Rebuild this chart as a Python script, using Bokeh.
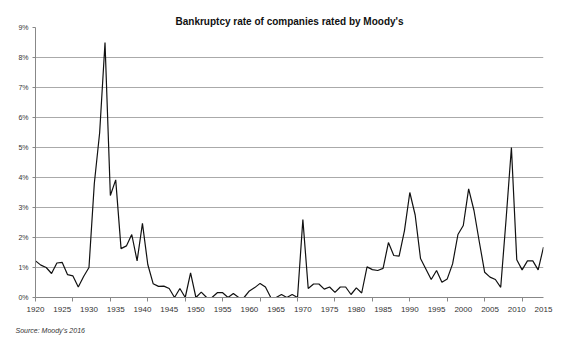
from bokeh.plotting import figure
from bokeh.models import Range1d, FixedTicker, PrintfTickFormatter, Title
from bokeh.embed import file_html
from bokeh.resources import INLINE

years = list(range(1920, 2016))
rates = [
    1.22, 1.08, 1.00, 0.80, 1.15, 1.17, 0.76, 0.72, 0.35, 0.70,  # 1920s
    1.00, 3.80, 5.50, 8.50, 3.40, 3.92, 1.63, 1.72, 2.10, 1.22,  # 1930s
    2.47, 1.10, 0.46, 0.37, 0.38, 0.30, 0.00, 0.30, 0.00, 0.82,  # 1940s
    0.00, 0.18, 0.00, 0.00, 0.16, 0.16, 0.00, 0.13, 0.00, 0.00,  # 1950s
    0.22, 0.33, 0.47, 0.35, 0.00, 0.00, 0.10, 0.00, 0.10, 0.00,  # 1960s
    2.60, 0.30, 0.45, 0.45, 0.28, 0.35, 0.17, 0.35, 0.35, 0.10,  # 1970s
    0.32, 0.15, 1.02, 0.93, 0.90, 0.97, 1.83, 1.40, 1.38, 2.23,  # 1980s
    3.50, 2.75, 1.30, 0.95, 0.60, 0.90, 0.51, 0.62, 1.12, 2.10,  # 1990s
    2.40, 3.62, 2.90, 1.85, 0.84, 0.68, 0.60, 0.34, 2.60, 5.00,  # 2000s
    1.26, 0.92, 1.22, 1.22, 0.92, 1.68,                          # 2010s
]
label_years = list(range(1920, 2016, 5))
tick_years = list(range(1920, 2016, 7))
y_ticks = list(range(0, 10))

title_text = "Bankruptcy rate of companies rated by Moody's"
source_text = "Source: Moody's 2016"

p = figure(width=567, height=351, output_backend="svg", toolbar_location=None,
           x_range=Range1d(1920, 2015), y_range=Range1d(0, 9),
           min_border_left=35, min_border_right=24, min_border_top=27,
           min_border_bottom=54)
p.outline_line_color = None
p.background_fill_color = "white"
p.border_fill_color = "white"

p.title.text = title_text
p.title.align = "center"
p.title.text_font = "Liberation Sans"
p.title.text_font_size = "10px"
p.title.text_font_style = "bold"
p.title.text_color = "#111111"
p.title.offset = 0
p.title.standoff = 2

p.line(years, rates, line_color="#111111", line_width=1.2)

xa = p.xaxis[0]
xa.ticker = FixedTicker(ticks=label_years, minor_ticks=tick_years)
xa.major_tick_line_color = None
xa.minor_tick_out = 4
xa.minor_tick_in = 0
xa.minor_tick_line_color = "#888888"
xa.axis_line_color = "#888888"
xa.major_label_text_font = "Liberation Sans"
xa.major_label_text_font_size = "8px"
xa.major_label_text_color = "#333333"
xa.major_label_standoff = 3

ya = p.yaxis[0]
ya.ticker = FixedTicker(ticks=y_ticks)
ya.formatter = PrintfTickFormatter(format="%d%%")
ya.major_tick_out = 3
ya.major_tick_in = 0
ya.minor_tick_line_color = None
ya.major_tick_line_color = "#888888"
ya.axis_line_color = "#888888"
ya.major_label_text_font = "Liberation Sans"
ya.major_label_text_font_size = "7px"
ya.major_label_text_color = "#333333"
ya.major_label_standoff = 4

p.xgrid.grid_line_color = None
p.ygrid.grid_line_color = "#aaaaaa"
p.ygrid.grid_line_width = 1

src = Title(text=source_text, align="left", text_font="Liberation Sans",
            text_font_size="7px", text_font_style="italic", text_color="#333333",
            offset=-20, standoff=20)
p.add_layout(src, "below")

open("out.html", "w").write(file_html(p, INLINE))
